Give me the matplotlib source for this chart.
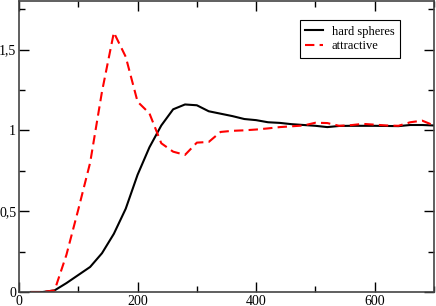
import matplotlib
matplotlib.use("Agg")
import matplotlib.pyplot as plt
from matplotlib.ticker import MultipleLocator, FuncFormatter

x = [20, 40, 60, 80, 100, 120, 140, 160, 180, 200, 220, 240, 260, 280, 300,
     320, 340, 360, 380, 400, 420, 440, 460, 480, 500, 520, 540, 560, 580,
     600, 620, 640, 660, 680, 700]
hard_spheres = [0.0, 0.0, 0.01, 0.055, 0.105, 0.155, 0.24, 0.36, 0.515, 0.725,
                0.895, 1.03, 1.13, 1.16, 1.155, 1.118, 1.103, 1.088, 1.07, 1.063,
                1.05, 1.046, 1.038, 1.033, 1.028, 1.02, 1.027, 1.028, 1.028,
                1.028, 1.027, 1.026, 1.033, 1.033, 1.03]
attractive = [0.0, 0.0, 0.01, 0.23, 0.51, 0.80, 1.24, 1.605, 1.455, 1.177,
              1.105, 0.92, 0.868, 0.848, 0.924, 0.928, 0.99, 0.997, 1.0, 1.005,
              1.012, 1.02, 1.025, 1.03, 1.047, 1.045, 1.028, 1.032, 1.04, 1.035,
              1.03, 1.028, 1.05, 1.06, 1.03]

plt.rcParams['font.family'] = ['Liberation Serif', 'DejaVu Serif']

fig = plt.figure(figsize=(4.36, 3.06), dpi=100)
ax = fig.add_axes([19/436, 1 - 292/306, 415/436, 291/306])

ax.plot(x, hard_spheres, color='black', lw=1.5, label='hard spheres')
ax.plot(x, attractive, color='red', lw=1.5, ls=(0, (4.5, 2.5)), label='attractive')

ax.set_xlim(0, 700)
ax.set_ylim(0, 1.8)
ax.xaxis.set_major_locator(MultipleLocator(200))
ax.xaxis.set_minor_locator(MultipleLocator(100))
ax.yaxis.set_major_locator(MultipleLocator(0.5))
ax.yaxis.set_minor_locator(MultipleLocator(0.25))

def fmt(v, pos):
    return ('%g' % v).replace('.', ',')
ax.xaxis.set_major_formatter(FuncFormatter(fmt))
ax.yaxis.set_major_formatter(FuncFormatter(fmt))

ax.tick_params(which='both', direction='in', top=True, right=True,
               labelsize=10, pad=2, width=1)
ax.tick_params(which='major', length=7)
ax.tick_params(which='minor', length=4)
for sp in ax.spines.values():
    sp.set_linewidth(1.2)
    sp.set_color('#444444')

leg = ax.legend(loc='upper right', fancybox=False, framealpha=1,
                edgecolor='black', fontsize=9, handlelength=1.4,
                handletextpad=0.7, borderpad=0.45, labelspacing=0.2,
                borderaxespad=0)
leg.set_bbox_to_anchor((400/436, 1 - 20/306), transform=fig.transFigure)
leg.get_frame().set_linewidth(0.8)

fig.savefig('out.png', dpi=100)
